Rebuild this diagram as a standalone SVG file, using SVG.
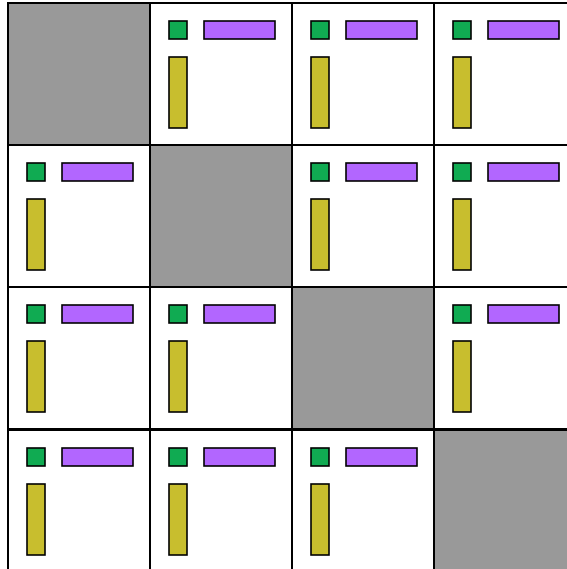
<svg xmlns="http://www.w3.org/2000/svg" width="567" height="569" viewBox="0 0 567 569">
<style>
.cell{fill:#ffffff;stroke:#000;stroke-width:2}
.diag{fill:#999999;stroke:#000;stroke-width:2}
.g{fill:#10ab52;stroke:#000;stroke-width:1.6}
.p{fill:#b266ff;stroke:#000;stroke-width:1.6}
.y{fill:#c8be2e;stroke:#000;stroke-width:1.6}
</style>
<defs>
<g id="tile">
<rect class="cell" x="0" y="0" width="142" height="142"/>
<rect class="g" x="19" y="18" width="18" height="18"/>
<rect class="p" x="54" y="18" width="71" height="18"/>
<rect class="y" x="19" y="54" width="18" height="71"/>
</g>
</defs>
<rect x="0" y="0" width="567" height="569" fill="#fff"/>
<g id="r0c0"><rect class="diag" x="8" y="3" width="142" height="142"/></g>
<g id="r0c1"><use href="#tile" x="150" y="3"/></g>
<g id="r0c2"><use href="#tile" x="292" y="3"/></g>
<g id="r0c3"><use href="#tile" x="434" y="3"/></g>
<g id="r1c0"><use href="#tile" x="8" y="145"/></g>
<g id="r1c1"><rect class="diag" x="150" y="145" width="142" height="142"/></g>
<g id="r1c2"><use href="#tile" x="292" y="145"/></g>
<g id="r1c3"><use href="#tile" x="434" y="145"/></g>
<g id="r2c0"><use href="#tile" x="8" y="287"/></g>
<g id="r2c1"><use href="#tile" x="150" y="287"/></g>
<g id="r2c2"><rect class="diag" x="292" y="287" width="142" height="142"/></g>
<g id="r2c3"><use href="#tile" x="434" y="287"/></g>
<g id="r3c0"><use href="#tile" x="8" y="430"/></g>
<g id="r3c1"><use href="#tile" x="150" y="430"/></g>
<g id="r3c2"><use href="#tile" x="292" y="430"/></g>
<g id="r3c3"><rect class="diag" x="434" y="430" width="142" height="142"/></g>
<g id="connectors"></g>
</svg>
